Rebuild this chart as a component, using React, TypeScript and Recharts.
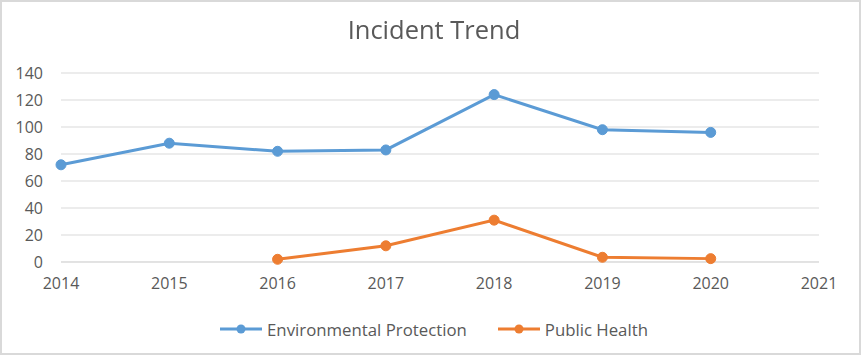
import { LineChart, Line, XAxis, YAxis, CartesianGrid, Legend } from "recharts";

const years = [2014, 2015, 2016, 2017, 2018, 2019, 2020];
const environmental = [72, 88, 82, 83, 124, 98, 96];
const publicHealth = [null, null, 2, 12, 31, 3.5, 2.5];
const xTicks = [2014, 2015, 2016, 2017, 2018, 2019, 2020, 2021];
const yTicks = [0, 20, 40, 60, 80, 100, 120, 140];

const data = years.map((year, i) => ({
  year,
  env: environmental[i],
  health: publicHealth[i],
}));

const FONT = "'Open Sans', sans-serif";
const TEXT = "#595959";

const series = [
  { key: "env", name: "Environmental Protection", color: "#5b9bd5" },
  { key: "health", name: "Public Health", color: "#ed7d31" },
];

function LegendContent() {
  return (
    <div
      style={{
        display: "flex",
        justifyContent: "center",
        alignItems: "center",
        height: 24,
        fontFamily: FONT,
        fontSize: 16.8,
        color: TEXT,
        gap: 30,
        paddingLeft: 48,
      }}
    >
      {series.map(s => (
        <div key={s.key} style={{ display: "flex", alignItems: "center" }}>
          <svg width={44} height={12} style={{ marginRight: 4 }}>
            <line x1={1} y1={6} x2={43} y2={6} stroke={s.color} strokeWidth={3} />
            <circle cx={22} cy={6} r={4.5} fill={s.color} />
          </svg>
          <span>{s.name}</span>
        </div>
      ))}
    </div>
  );
}

export default function App() {
  return (
    <div style={{ position: "fixed", left: 0, top: 0, width: 861, height: 355, background: "#fff" }}>
      <LineChart
        width={861}
        height={355}
        data={data}
        margin={{ top: 73, right: 42, left: 0, bottom: 14 }}
      >
        <CartesianGrid vertical={false} stroke="#d9d9d9" strokeWidth={1} />
        <XAxis
          dataKey="year"
          type="number"
          domain={[2014, 2021]}
          ticks={xTicks}
          height={55}
          tickSize={0}
          tickMargin={16}
          axisLine={{ stroke: "#d9d9d9" }}
          tick={{ fill: TEXT, fontSize: 16, fontFamily: FONT }}
        />
        <YAxis
          domain={[0, 140]}
          ticks={yTicks}
          width={61}
          tickSize={0}
          tickMargin={18}
          axisLine={false}
          tickLine={false}
          tick={{ fill: TEXT, fontSize: 16, fontFamily: FONT }}
        />
        <Legend verticalAlign="bottom" height={24} content={() => <LegendContent />} />
        {series.map(s => (
          <Line
            key={s.key}
            dataKey={s.key}
            name={s.name}
            stroke={s.color}
            strokeWidth={3}
            dot={{ r: 5, fill: s.color, stroke: s.color, strokeWidth: 1 }}
            isAnimationActive={false}
          />
        ))}
      </LineChart>
      <div
        style={{
          position: "absolute",
          top: 11,
          left: 0,
          width: 868,
          textAlign: "center",
          fontFamily: FONT,
          fontSize: 25.5,
          color: TEXT,
          lineHeight: "36px",
        }}
      >
        Incident Trend
      </div>
      <div
        style={{
          position: "absolute",
          inset: 0,
          border: "2px solid #d9d9d9",
          pointerEvents: "none",
        }}
      />
    </div>
  );
}
